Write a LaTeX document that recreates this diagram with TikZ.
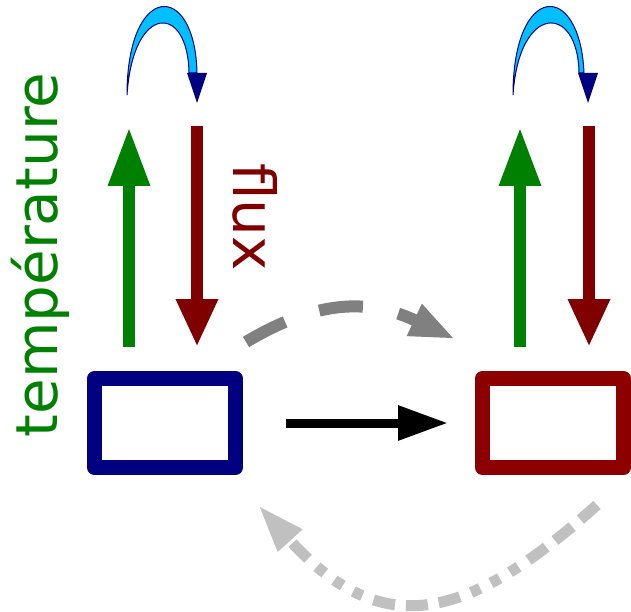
\documentclass[tikz,border=0pt]{standalone}
\usepackage{fontspec}
\setmainfont{DejaVu Sans}
\usetikzlibrary{arrows.meta,positioning}
\definecolor{cellblue}{HTML}{000080}
\definecolor{cellred}{HTML}{8C0000}
\definecolor{tempgreen}{HTML}{008000}
\definecolor{fluxred}{HTML}{800000}
\definecolor{loopcyan}{HTML}{00BFFF}
\definecolor{couplegray}{HTML}{808080}
\definecolor{backgray}{HTML}{C0C0C0}

\begin{document}
\begin{tikzpicture}[
    x=1pt, y=-1pt,
    cell/.style={rectangle, draw, line width=15pt, line join=round, minimum width=141pt, minimum height=89pt, inner sep=0pt},
    caption/.style={font=\fontsize{58}{60}\selectfont, inner sep=0pt, anchor=base},
    temparrow/.style={-{Triangle[length=59pt, width=39pt]}, line width=12pt, tempgreen},
    fluxarrow/.style={-{Triangle[length=48pt, width=39pt]}, line width=12pt, fluxred},
    mainflow/.style={-{Triangle[length=50pt, width=33pt]}, line width=9pt, black},
    coupling/.style={-{Triangle[length=45pt, width=32pt]}, line width=12pt, couplegray, dash pattern=on 44pt off 36pt},
    backflow/.style={-{Triangle[length=48pt, width=30pt]}, line width=11pt, backgray,
        dash pattern=on 22pt off 11pt on 22pt off 11pt on 22pt off 12pt on 10pt off 12pt on 10pt off 12pt on 10pt off 12pt},
    loop/.style={fill=loopcyan, draw=cellblue, line width=1pt}
]
\useasboundingbox (0,0) rectangle (631,612);

% Cells
\node[cell, draw=cellblue] (src) at (165,423) {};
\node[cell, draw=cellred] (snk) at (553,423) {};

% Labels
\node[caption, tempgreen, rotate=90] (templabel) at (57,255) {température};
\node[caption, fluxred, rotate=-90] (fluxlabel) at (233,217) {flux};

% Arrow ends
\coordinate (tempLlow) at (129,347);
\coordinate (tempLtop) at (129,127);
\coordinate (fluxLtop) at (197,126);
\coordinate (fluxLlow) at (197,347);
\coordinate (tempRlow) at (520,347);
\coordinate (tempRtop) at (520,127);
\coordinate (fluxRtop) at (589,126);
\coordinate (fluxRlow) at (589,347);
\coordinate (coupleStart) at (246,342);
\coordinate (coupleEnd) at (455,339);
\coordinate (backStart) at (597,505);
\coordinate (backEnd) at (258,505);

% Temperature and flux
\draw[temparrow] (tempLlow) -- (tempLtop);
\draw[fluxarrow] (fluxLtop) -- (fluxLlow);
\draw[temparrow] (tempRlow) -- (tempRtop);
\draw[fluxarrow] (fluxRtop) -- (fluxRlow);

% Feedback loops
\filldraw[loop] (127,95) .. controls (127,-18) and (195,-20) .. (197,73) -- (189,73) .. controls (188,3) and (133,3) .. (127,95) -- cycle;
\fill[cellblue] (187,73) -- (207,73) -- (197,103) -- cycle;
\filldraw[loop] (513,95) .. controls (513,-18) and (580,-20) .. (584,73) -- (579,73) .. controls (578,3) and (519,3) .. (513,95) -- cycle;
\fill[cellblue] (578,73) -- (598,73) -- (588,103) -- cycle;

% Coupling between cells
\draw[mainflow, shorten <=43pt, shorten >=27pt] (src.east) -- (snk.west);
\draw[coupling] (coupleStart) .. controls (323,296) and (374,301) .. (coupleEnd);
\draw[backflow] (backStart) .. controls (462,626) and (379,639) .. (backEnd);

\end{tikzpicture}
\end{document}
